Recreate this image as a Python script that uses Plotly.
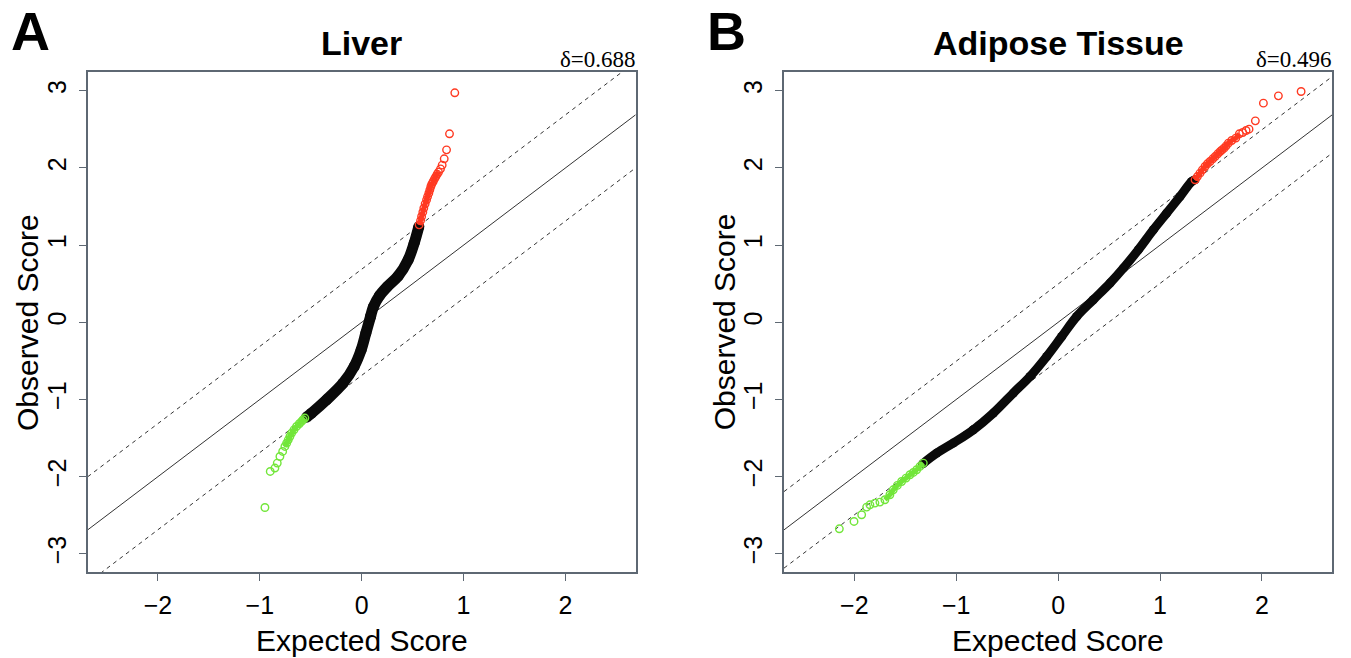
import plotly.graph_objects as go

W, H = 1351, 658

# ---------------- data ----------------
panel_titles = ["Liver", "Adipose Tissue"]
panel_letters = ["A", "B"]
deltas = [0.688, 0.496]

x_ticks = [-2, -1, 0, 1, 2]
y_ticks = [-3, -2, -1, 0, 1, 2, 3]
x_limits = [-2.69, 2.69]
y_limits = [-3.24, 3.24]

# Liver (panel A)
liver_black_x = [-0.541, -0.492, -0.345, -0.182, -0.074, -0.005, 0.041, 0.087, 0.115, 0.175, 0.250, 0.358, 0.456, 0.515, 0.561]
liver_black_y = [-1.229, -1.177, -1.004, -0.788, -0.573, -0.356, -0.140, 0.075, 0.200, 0.345, 0.460, 0.600, 0.810, 1.026, 1.241]

liver_red_x = [0.564, 0.578, 0.588, 0.600, 0.610, 0.623, 0.637, 0.647, 0.659, 0.669, 0.679, 0.689,
               0.702, 0.715, 0.728, 0.741, 0.754, 0.774, 0.790, 0.810, 0.833, 0.862, 0.914]
liver_red_y = [1.263, 1.319, 1.371, 1.428, 1.480, 1.535, 1.587, 1.630, 1.674, 1.717, 1.760, 1.795,
               1.825, 1.860, 1.889, 1.920, 1.946, 1.989, 2.037, 2.119, 2.235, 2.443, 2.974]

liver_green_x = [-0.558, -0.575, -0.590, -0.613, -0.639, -0.665, -0.688, -0.705, -0.721, -0.737, -0.754,
                 -0.776, -0.803, -0.829, -0.852, -0.898, -0.950]
liver_green_y = [-1.241, -1.262, -1.285, -1.315, -1.350, -1.393, -1.436, -1.480, -1.523, -1.566, -1.609,
                 -1.674, -1.739, -1.825, -1.889, -1.933, -2.400]

# Adipose tissue (panel B)
adipose_black_x = [-1.330, -1.191, -1.029, -0.832, -0.636, -0.440, -0.276, -0.112, 0.035, 0.182,
                   0.345, 0.509, 0.640, 0.787, 0.934, 1.065, 1.196, 1.311, 1.343]
adipose_black_y = [-1.835, -1.695, -1.565, -1.393, -1.177, -0.917, -0.702, -0.443, -0.184, 0.075,
                   0.292, 0.508, 0.702, 0.940, 1.199, 1.415, 1.630, 1.825, 1.847]

adipose_red_x = [1.343, 1.366, 1.392, 1.415, 1.441, 1.464, 1.490, 1.517, 1.540, 1.566, 1.589, 1.608,
                 1.628, 1.648, 1.670, 1.703, 1.743, 1.778, 1.811, 1.844, 1.873, 1.935, 2.014, 2.161, 2.384]
adipose_red_y = [1.847, 1.889, 1.933, 1.976, 2.019, 2.054, 2.084, 2.119, 2.148, 2.184, 2.213, 2.235,
                 2.257, 2.287, 2.322, 2.356, 2.387, 2.443, 2.460, 2.486, 2.503, 2.611, 2.840, 2.935, 2.991]

adipose_green_x = [-1.323, -1.356, -1.388, -1.421, -1.454, -1.493, -1.536, -1.578, -1.618, -1.651,
                   -1.700, -1.749, -1.798, -1.847, -1.879, -1.928, -2.003, -2.147]
adipose_green_y = [-1.825, -1.868, -1.911, -1.946, -1.976, -2.019, -2.063, -2.114, -2.171, -2.235,
                   -2.300, -2.330, -2.343, -2.365, -2.395, -2.494, -2.581, -2.676]

# ---------------- style ----------------
BOX = "#5E6873"
RED = "#FF3A22"
GREEN = "#72E63A"
BLACK = "#0a0a0a"
SANS = "Liberation Sans, Arial, sans-serif"
SERIF = "Liberation Serif, Times New Roman, serif"

panels = [
    dict(black=(liver_black_x, liver_black_y), red=(liver_red_x, liver_red_y),
         green=(liver_green_x, liver_green_y), band=11, left=87.7, right=635.7,
         dense=dict(red=17, green=11)),
    dict(black=(adipose_black_x, adipose_black_y), red=(adipose_red_x, adipose_red_y),
         green=(adipose_green_x, adipose_green_y), band=9, left=784.0, right=1332.3,
         dense=dict(red=18, green=11)),
]
TOP, BOTTOM = 72.3, 572.3


def px(x):
    return x / W


def py(y):
    return 1 - y / H


fig = go.Figure()
annotations = []
for i, p in enumerate(panels):
    xa = "x" if i == 0 else "x2"
    ya = "y" if i == 0 else "y2"
    d = deltas[i]
    # reference lines
    fig.add_trace(go.Scatter(x=x_limits, y=x_limits, mode="lines", xaxis=xa, yaxis=ya,
                             line=dict(color="#333333", width=1), hoverinfo="skip", showlegend=False))
    for s in (1, -1):
        fig.add_trace(go.Scatter(x=x_limits, y=[v + s * d for v in x_limits], mode="lines",
                                 xaxis=xa, yaxis=ya,
                                 line=dict(color="#333333", width=1, dash="4px,4px"),
                                 hoverinfo="skip", showlegend=False))
    bx, by = p["black"]
    fig.add_trace(go.Scatter(x=bx, y=by, mode="lines+markers", xaxis=xa, yaxis=ya,
                             line=dict(color=BLACK, width=p["band"], shape="spline"),
                             marker=dict(color=BLACK, size=p["band"]),
                             showlegend=False))
    for key, col in (("red", RED), ("green", GREEN)):
        cx, cy = p[key]
        n = p["dense"][key]
        # dense run of overlapping circles reads as a solid band
        fig.add_trace(go.Scatter(x=cx[:n], y=cy[:n], mode="lines", xaxis=xa, yaxis=ya,
                                 line=dict(color=col, width=5, shape="spline"),
                                 hoverinfo="skip", showlegend=False))
        fig.add_trace(go.Scatter(x=cx, y=cy, mode="markers", xaxis=xa, yaxis=ya,
                                 marker=dict(symbol="circle-open", size=7.5, color=col,
                                             line=dict(width=1.4, color=col)),
                                 showlegend=False))
    cx_mid = (p["left"] + p["right"]) / 2
    annotations += [
        dict(text=f"<b>{panel_titles[i]}</b>", x=px(cx_mid), y=py(42.5), xref="paper", yref="paper",
             showarrow=False, xanchor="center", yanchor="middle",
             font=dict(family=SANS, size=34, color="black")),
        dict(text=f"<b>{panel_letters[i]}</b>", x=px(p["left"] - 57), y=py(31), xref="paper", yref="paper",
             showarrow=False, xanchor="center", yanchor="middle",
             font=dict(family=SANS, size=54, color="black")),
        dict(text=f"δ={d}", x=px(p["right"] + 2), y=py(60), xref="paper", yref="paper",
             showarrow=False, xanchor="right", yanchor="middle",
             font=dict(family=SERIF, size=23, color="black")),
        dict(text="Expected Score", x=px(cx_mid), y=py(640), xref="paper", yref="paper",
             showarrow=False, xanchor="center", yanchor="middle",
             font=dict(family=SANS, size=30, color="black")),
        dict(text="Observed Score", x=px(p["left"] - 60), y=py((TOP + BOTTOM) / 2), xref="paper",
             yref="paper", showarrow=False, xanchor="center", yanchor="middle", textangle=-90,
             font=dict(family=SANS, size=30, color="black")),
    ]

axis_common = dict(showline=True, mirror=True, linecolor=BOX, linewidth=1.5, ticks="outside",
                   ticklen=7, tickwidth=1.2, tickcolor=BOX, showgrid=False, zeroline=False,
                   tickfont=dict(family=SANS, size=25, color="black"), fixedrange=True)

layout = dict(width=W, height=H, margin=dict(l=0, r=0, t=0, b=0), paper_bgcolor="white",
              plot_bgcolor="white", annotations=annotations, showlegend=False)
for i, p in enumerate(panels):
    xs = "xaxis" if i == 0 else "xaxis2"
    ys = "yaxis" if i == 0 else "yaxis2"
    layout[xs] = dict(axis_common, domain=[px(p["left"]), px(p["right"])], range=x_limits,
                      tickvals=x_ticks, ticklabelstandoff=3,
                      anchor="y" if i == 0 else "y2")
    layout[ys] = dict(axis_common, domain=[py(BOTTOM), py(TOP)], range=y_limits,
                      tickvals=y_ticks, tickangle=-90, ticklabelstandoff=3,
                      anchor="x" if i == 0 else "x2")

fig.update_layout(**layout)
fig.write_html("out.html", config={"displayModeBar": False},
               post_script="document.body.style.margin='0';document.body.style.overflow='hidden';")
